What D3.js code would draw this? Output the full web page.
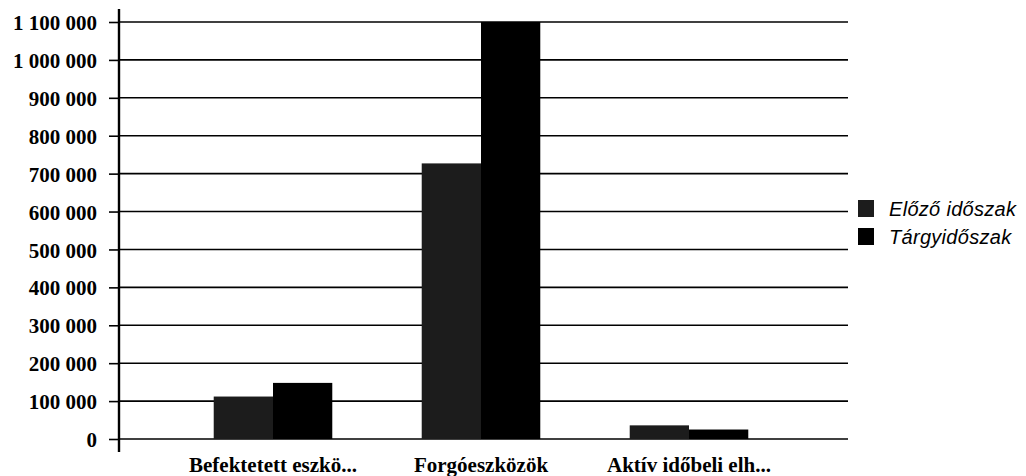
<!DOCTYPE html>
<html><head><meta charset="utf-8">
<script src="https://cdn.jsdelivr.net/npm/d3@7"></script>
<style>
body{margin:0;background:#fff;}
svg{display:block;}
.yt text{font-family:"Liberation Serif","DejaVu Serif",serif;font-weight:bold;font-size:21px;fill:#000;}
.xl{font-family:"Liberation Serif","DejaVu Serif",serif;font-weight:bold;font-size:21px;fill:#000;}
.lg{font-family:"Liberation Sans",Arial,sans-serif;font-style:italic;font-size:20px;letter-spacing:0.3px;fill:#000;}
</style></head>
<body>
<svg id="c" width="1026" height="476"></svg>
<script>
const categories = ["Befektetett eszkö...", "Forgóeszközök", "Aktív időbeli elh..."];
const seriesNames = ["Előző időszak", "Tárgyidőszak"];
const prevValues = [112000, 727000, 36000];
const currValues = [148000, 1100000, 25000];
const yTicks = [0,100000,200000,300000,400000,500000,600000,700000,800000,900000,1000000,1100000];
const colors = ["#1c1c1c", "#000000"];

(function(){
const svg = d3.select("#c");
const mLeft = 119, mRight = 848, mTop = 22, mBottom = 439;

const y = d3.scaleLinear().domain([0, 1100000]).range([mBottom, mTop]);
const x0 = d3.scaleBand().domain(categories).range([169, 793]).paddingInner(0.43).paddingOuter(0.215);
const x1 = d3.scaleBand().domain(seriesNames).range([0, x0.bandwidth()]);
const fmt = d3.formatLocale({decimal:",", thousands:" ", grouping:[3], currency:["",""]}).format(",d");

// gridlines
svg.append("g").selectAll("line").data(yTicks).join("line")
  .attr("x1", mLeft).attr("x2", mRight)
  .attr("y1", d => y(d)).attr("y2", d => y(d))
  .attr("stroke", "#000").attr("stroke-width", 1.6);

// y axis
const ya = svg.append("g").attr("class","yt").attr("transform",`translate(${mLeft},0)`)
  .call(d3.axisLeft(y).tickValues(yTicks).tickFormat(fmt).tickSize(10).tickPadding(12));
ya.select(".domain").remove();
ya.selectAll(".tick line").attr("stroke","#000").attr("stroke-width",1.6);
ya.selectAll(".tick text").attr("dy","0.36em");
svg.append("line").attr("x1",mLeft).attr("x2",mLeft).attr("y1",9).attr("y2",452)
  .attr("stroke","#000").attr("stroke-width",2.4);

// bars
const data = categories.map((c,i)=>({c, vals:[prevValues[i], currValues[i]]}));
const g = svg.append("g").selectAll("g").data(data).join("g")
  .attr("transform", d => `translate(${x0(d.c)},0)`);
g.selectAll("rect").data(d => d.vals.map((v,j)=>({s:seriesNames[j], v, j}))).join("rect")
  .attr("x", d => x1(d.s)).attr("width", x1.bandwidth())
  .attr("y", d => y(d.v)).attr("height", d => y(0) - y(d.v))
  .attr("fill", d => colors[d.j]);

// x labels
svg.append("g").selectAll("text").data(categories).join("text")
  .attr("class","xl").attr("x", d => x0(d) + x0.bandwidth()/2)
  .attr("y", 472).attr("text-anchor","middle").text(d => d);

// legend
const lg = svg.append("g").selectAll("g").data(seriesNames).join("g")
  .attr("transform", (d,i) => `translate(858,${200 + i*28})`);
lg.append("rect").attr("width",16).attr("height",17).attr("fill",(d,i)=>colors[i]);
lg.append("text").attr("class","lg").attr("x",31).attr("y",16).text(d=>d);
})();
</script>
</body></html>
